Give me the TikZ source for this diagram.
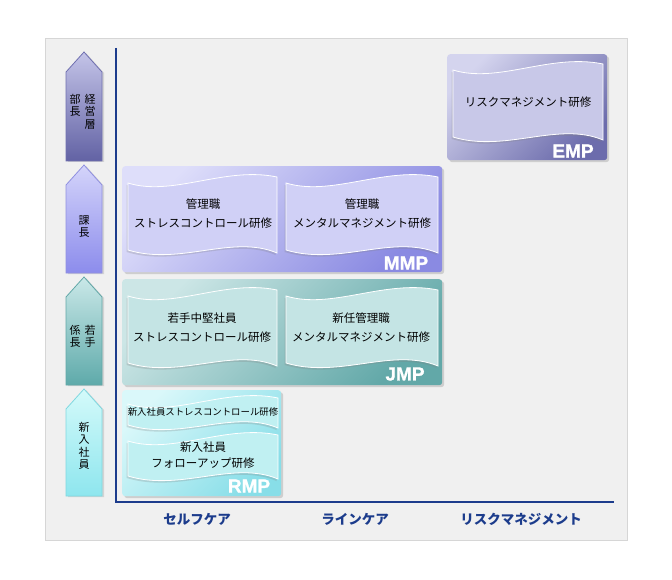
\documentclass[tikz,border=0pt]{standalone}
\usepackage{fontspec}
\setmainfont{Liberation Sans}
\newfontfamily\jpfont{Noto Sans CJK JP}
\newfontfamily\tagfont[FakeBold=1.2]{Liberation Sans Bold}
\usetikzlibrary{positioning,shadows}

\definecolor{bggray}{HTML}{F0F0F0}
\definecolor{bgline}{HTML}{D6D6D6}
\definecolor{axisblue}{HTML}{1C3C8C}
% panel colours
\definecolor{empA}{HTML}{D4D4EE}\definecolor{empB}{HTML}{6C6CAC}\definecolor{empF}{HTML}{C8C8E8}
\definecolor{mmpA}{HTML}{DEDEFA}\definecolor{mmpB}{HTML}{8A8AE2}\definecolor{mmpF}{HTML}{D0D0F6}
\definecolor{jmpA}{HTML}{CCE6E6}\definecolor{jmpB}{HTML}{62A8A8}\definecolor{jmpF}{HTML}{C4E4E4}
\definecolor{rmpA}{HTML}{DAF8FA}\definecolor{rmpB}{HTML}{88DEE8}\definecolor{rmpF}{HTML}{C0F0F2}
% rank arrow colours
\definecolor{rankAt}{HTML}{C4C4E8}\definecolor{rankAb}{HTML}{6262A4}\definecolor{rankAl}{HTML}{7070B0}
\definecolor{rankBt}{HTML}{D4D4FA}\definecolor{rankBb}{HTML}{8C8CEC}\definecolor{rankBl}{HTML}{9090E0}
\definecolor{rankCt}{HTML}{CAE8E8}\definecolor{rankCb}{HTML}{5EAAAA}\definecolor{rankCl}{HTML}{62A8A8}
\definecolor{rankDt}{HTML}{D4FAFA}\definecolor{rankDb}{HTML}{8EE6EE}\definecolor{rankDl}{HTML}{80D8E0}

\begin{document}
\begin{tikzpicture}[x=1pt,y=-1pt,
    panel/.style={rectangle,rounded corners=3pt,anchor=north west,inner sep=0pt,shading angle=45,
        drop shadow={shadow xshift=2pt,shadow yshift=-2pt,opacity=0.3}},
    flagtext/.style={font=\jpfont\fontsize{11.5}{19}\selectfont,align=center},
    smalltext/.style={font=\jpfont\fontsize{9.4}{11}\selectfont,align=center},
    ranktext/.style={font=\jpfont\fontsize{11}{12.5}\selectfont,align=center,anchor=north,inner sep=0pt},
    tag/.style={font=\tagfont\fontsize{19}{19}\selectfont,text=white,inner sep=0pt},
    axislabel/.style={font=\jpfont\bfseries\fontsize{13.5}{15}\selectfont,text=axisblue},
    axisline/.style={draw=axisblue,line width=1.6pt},
    rankarrow/.style={line width=0.8pt,shading angle=0,
        drop shadow={shadow xshift=2pt,shadow yshift=-1pt,opacity=0.25}},
    pics/flag/.style n args={3}{code={
        \draw[draw=white,line width=0.8pt,top color=#3,middle color=white,bottom color=#3,shading angle=20,
              drop shadow={shadow xshift=-1.5pt,shadow yshift=-2pt,opacity=0.25}]
            (0,6) .. controls (0.3*#1,20) and (0.65*#1,-11) .. (#1,0) -- (#1,#2)
            .. controls (0.7*#1,#2-19) and (0.35*#1,#2+13) .. (0,#2-3) -- cycle;
    }}
]
    \useasboundingbox (0,0) rectangle (672,580);
    \draw[fill=bggray,draw=bgline] (45,38) rectangle (627,540);

    % Panels
    \node[top color=empA,bottom color=empB,panel,minimum width=160pt,minimum height=106pt] (emp) at (447,54) {};
    \node[top color=mmpA,bottom color=mmpB,panel,minimum width=320pt,minimum height=106pt] (mmp) at (122,166) {};
    \node[top color=jmpA,bottom color=jmpB,panel,minimum width=320pt,minimum height=106pt] (jmp) at (122,279) {};
    \node[top color=rmpA,bottom color=rmpB,panel,minimum width=159pt,minimum height=106pt] (rmp) at (122,390) {};

    % Flags
    \pic at (453,64) {flag={150}{76}{empF}};
    \pic at (128,177) {flag={149}{76}{mmpF}};
    \pic at (286,177) {flag={152}{76}{mmpF}};
    \pic at (128,290) {flag={149}{76}{jmpF}};
    \pic at (286,290) {flag={152}{76}{jmpF}};
    \pic at (128,398) {flag={150}{30}{rmpF}};
    \pic at (128,435) {flag={150}{44}{rmpF}};

    % Course titles
    \node[flagtext] (emptext) at (528,102) {リスクマネジメント研修};
    \node[flagtext] (mmpself) at (203,214) {管理職\\ストレスコントロール研修};
    \node[flagtext] (mmpline) at (362,214) {管理職\\メンタルマネジメント研修};
    \node[flagtext] (jmpself) at (202,328) {若手中堅社員\\ストレスコントロール研修};
    \node[flagtext] (jmpline) at (361,328) {新任管理職\\メンタルマネジメント研修};
    \node[smalltext] (rmpstress) at (203,412) {新入社員ストレスコントロール研修};
    \node[flagtext,font=\jpfont\fontsize{11.5}{16}\selectfont] (rmpfollow) at (203,455) {新入社員\\フォローアップ研修};

    % Program tags
    \node[tag] (emptag) at (573,151) {EMP};
    \node[tag] (mmptag) at (406,263) {MMP};
    \node[tag] (jmptag) at (405,374) {JMP};
    \node[tag] (rmptag) at (249,486) {RMP};

    % Rank arrows
    \foreach \tip/\bot/\rk in {52/161/A,165/273/B,277/385/C,389/496/D}
        \draw[rankarrow,draw=rank\rk l,top color=rank\rk t,bottom color=rank\rk b]
            (66,\bot) -- (66,\tip+20) -- (84,\tip) -- (102,\tip+20) -- (102,\bot) -- cycle;
    \node[ranktext] (keiei) at (90,94) {経\\営\\層};
    \node[ranktext] (bucho) at (75,94) {部\\長};
    \node[ranktext] (kacho) at (84,215) {課\\長};
    \node[ranktext] (wakate) at (90,325) {若\\手};
    \node[ranktext] (kakari) at (75,325) {係\\長};
    \node[ranktext] (shinnyu) at (84,422) {新\\入\\社\\員};

    % Axes
    \coordinate (origin) at (116,502);
    \coordinate (ytop) at (116,48);
    \coordinate (xend) at (614,502);
    \draw[axisline] (ytop) -- (origin) -- (xend);
    \node[axislabel] (selfcare) at (197,519) {セルフケア};
    \node[axislabel] (linecare) at (355,519) {ラインケア};
    \node[axislabel] (riskmgmt) at (521,519) {リスクマネジメント};
\end{tikzpicture}
\end{document}
